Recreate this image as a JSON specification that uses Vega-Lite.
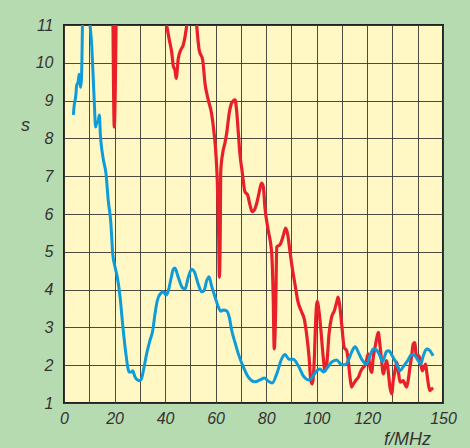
{
  "$schema": "https://vega.github.io/schema/vega-lite/v6.json",
  "width": 379,
  "height": 378,
  "autosize": {"type": "none"},
  "padding": {"left": 64, "top": 25, "right": 27, "bottom": 45},
  "background": "#b7dbb0",
  "config": {
    "view": {"fill": "#fff8c5", "stroke": "#222222", "strokeWidth": 2},
    "axis": {
      "labelFont": "Liberation Sans",
      "labelFontStyle": "italic",
      "labelFontSize": 16,
      "labelColor": "#333333",
      "titleFont": "Liberation Sans",
      "titleFontStyle": "italic",
      "titleFontWeight": "normal",
      "titleFontSize": 18,
      "titleColor": "#333333",
      "ticks": false,
      "domain": false,
      "grid": true,
      "gridColor": "#3a3630",
      "gridWidth": 1,
      "gridOpacity": 0.9
    }
  },
  "datasets": {
    "curves": [
      {"series": "red", "seg": "r1", "f": 19.4, "s": 11},
      {"series": "red", "seg": "r1", "f": 19.9, "s": 8.3},
      {"series": "red", "seg": "r1", "f": 20.6, "s": 11},

      {"series": "red", "seg": "r2", "f": 40.6, "s": 11},
      {"series": "red", "seg": "r2", "f": 41.7, "s": 10.6},
      {"series": "red", "seg": "r2", "f": 42.6, "s": 10.29},
      {"series": "red", "seg": "r2", "f": 43.3, "s": 9.9},
      {"series": "red", "seg": "r2", "f": 43.9, "s": 9.81},
      {"series": "red", "seg": "r2", "f": 44.4, "s": 9.59},
      {"series": "red", "seg": "r2", "f": 45.2, "s": 10.1},
      {"series": "red", "seg": "r2", "f": 46.2, "s": 10.34},
      {"series": "red", "seg": "r2", "f": 47.2, "s": 10.47},
      {"series": "red", "seg": "r2", "f": 47.9, "s": 10.69},
      {"series": "red", "seg": "r2", "f": 48.6, "s": 11},

      {"series": "red", "seg": "r3", "f": 52.5, "s": 11},
      {"series": "red", "seg": "r3", "f": 53.5, "s": 10.34},
      {"series": "red", "seg": "r3", "f": 54.9, "s": 10.07},
      {"series": "red", "seg": "r3", "f": 55.8, "s": 9.46},
      {"series": "red", "seg": "r3", "f": 57.1, "s": 9.02},
      {"series": "red", "seg": "r3", "f": 58.4, "s": 8.66},
      {"series": "red", "seg": "r3", "f": 59.4, "s": 8.14},
      {"series": "red", "seg": "r3", "f": 60.2, "s": 7.52},
      {"series": "red", "seg": "r3", "f": 60.7, "s": 6.82},
      {"series": "red", "seg": "r3", "f": 61.2, "s": 5.5},
      {"series": "red", "seg": "r3", "f": 61.5, "s": 4.33},
      {"series": "red", "seg": "r3", "f": 61.9, "s": 6.0},
      {"series": "red", "seg": "r3", "f": 62.0, "s": 7.08},
      {"series": "red", "seg": "r3", "f": 62.8, "s": 7.61},
      {"series": "red", "seg": "r3", "f": 63.7, "s": 7.88},
      {"series": "red", "seg": "r3", "f": 64.4, "s": 8.14},
      {"series": "red", "seg": "r3", "f": 65.4, "s": 8.67},
      {"series": "red", "seg": "r3", "f": 66.4, "s": 8.94},
      {"series": "red", "seg": "r3", "f": 67.7, "s": 9.02},
      {"series": "red", "seg": "r3", "f": 68.3, "s": 8.75},
      {"series": "red", "seg": "r3", "f": 69.0, "s": 8.14},
      {"series": "red", "seg": "r3", "f": 69.6, "s": 7.61},
      {"series": "red", "seg": "r3", "f": 70.6, "s": 7.08},
      {"series": "red", "seg": "r3", "f": 71.6, "s": 6.59},
      {"series": "red", "seg": "r3", "f": 72.7, "s": 6.5},
      {"series": "red", "seg": "r3", "f": 73.6, "s": 6.24},
      {"series": "red", "seg": "r3", "f": 74.5, "s": 6.06},
      {"series": "red", "seg": "r3", "f": 75.3, "s": 6.1},
      {"series": "red", "seg": "r3", "f": 76.3, "s": 6.29},
      {"series": "red", "seg": "r3", "f": 77.2, "s": 6.56},
      {"series": "red", "seg": "r3", "f": 78.2, "s": 6.82},
      {"series": "red", "seg": "r3", "f": 78.9, "s": 6.72},
      {"series": "red", "seg": "r3", "f": 79.5, "s": 6.19},
      {"series": "red", "seg": "r3", "f": 80.8, "s": 5.58},
      {"series": "red", "seg": "r3", "f": 82.2, "s": 4.96},
      {"series": "red", "seg": "r3", "f": 82.8, "s": 3.8},
      {"series": "red", "seg": "r3", "f": 83.2, "s": 2.43},
      {"series": "red", "seg": "r3", "f": 83.8, "s": 3.54},
      {"series": "red", "seg": "r3", "f": 84.2, "s": 5.13},
      {"series": "red", "seg": "r3", "f": 85.5, "s": 5.19},
      {"series": "red", "seg": "r3", "f": 86.8, "s": 5.43},
      {"series": "red", "seg": "r3", "f": 87.7, "s": 5.63},
      {"series": "red", "seg": "r3", "f": 88.5, "s": 5.47},
      {"series": "red", "seg": "r3", "f": 89.4, "s": 5.03},
      {"series": "red", "seg": "r3", "f": 90.3, "s": 4.59},
      {"series": "red", "seg": "r3", "f": 91.4, "s": 4.15},
      {"series": "red", "seg": "r3", "f": 92.5, "s": 3.71},
      {"series": "red", "seg": "r3", "f": 94.1, "s": 3.4},
      {"series": "red", "seg": "r3", "f": 95.1, "s": 3.22},
      {"series": "red", "seg": "r3", "f": 96.0, "s": 2.83},
      {"series": "red", "seg": "r3", "f": 97.0, "s": 2.21},
      {"series": "red", "seg": "r3", "f": 97.7, "s": 1.59},
      {"series": "red", "seg": "r3", "f": 98.3, "s": 1.5},
      {"series": "red", "seg": "r3", "f": 99.1, "s": 2.21},
      {"series": "red", "seg": "r3", "f": 99.6, "s": 3.18},
      {"series": "red", "seg": "r3", "f": 100.2, "s": 3.69},
      {"series": "red", "seg": "r3", "f": 100.9, "s": 3.44},
      {"series": "red", "seg": "r3", "f": 101.7, "s": 2.91},
      {"series": "red", "seg": "r3", "f": 102.6, "s": 2.21},
      {"series": "red", "seg": "r3", "f": 103.3, "s": 1.85},
      {"series": "red", "seg": "r3", "f": 104.0, "s": 2.03},
      {"series": "red", "seg": "r3", "f": 104.9, "s": 2.83},
      {"series": "red", "seg": "r3", "f": 105.9, "s": 3.27},
      {"series": "red", "seg": "r3", "f": 107.0, "s": 3.44},
      {"series": "red", "seg": "r3", "f": 107.9, "s": 3.66},
      {"series": "red", "seg": "r3", "f": 108.5, "s": 3.8},
      {"series": "red", "seg": "r3", "f": 109.2, "s": 3.53},
      {"series": "red", "seg": "r3", "f": 109.9, "s": 3.09},
      {"series": "red", "seg": "r3", "f": 110.9, "s": 2.47},
      {"series": "red", "seg": "r3", "f": 111.9, "s": 2.38},
      {"series": "red", "seg": "r3", "f": 112.5, "s": 2.12},
      {"series": "red", "seg": "r3", "f": 113.2, "s": 1.68},
      {"series": "red", "seg": "r3", "f": 113.8, "s": 1.42},
      {"series": "red", "seg": "r3", "f": 114.5, "s": 1.5},
      {"series": "red", "seg": "r3", "f": 115.4, "s": 1.59},
      {"series": "red", "seg": "r3", "f": 116.5, "s": 1.68},
      {"series": "red", "seg": "r3", "f": 117.5, "s": 1.85},
      {"series": "red", "seg": "r3", "f": 118.4, "s": 1.94},
      {"series": "red", "seg": "r3", "f": 119.4, "s": 2.03},
      {"series": "red", "seg": "r3", "f": 120.4, "s": 2.3},
      {"series": "red", "seg": "r3", "f": 121.1, "s": 1.94},
      {"series": "red", "seg": "r3", "f": 121.8, "s": 1.81},
      {"series": "red", "seg": "r3", "f": 122.4, "s": 2.21},
      {"series": "red", "seg": "r3", "f": 123.1, "s": 2.47},
      {"series": "red", "seg": "r3", "f": 123.7, "s": 2.69},
      {"series": "red", "seg": "r3", "f": 124.4, "s": 2.87},
      {"series": "red", "seg": "r3", "f": 125.0, "s": 2.56},
      {"series": "red", "seg": "r3", "f": 125.7, "s": 2.12},
      {"series": "red", "seg": "r3", "f": 126.4, "s": 1.77},
      {"series": "red", "seg": "r3", "f": 127.0, "s": 1.94},
      {"series": "red", "seg": "r3", "f": 127.7, "s": 2.12},
      {"series": "red", "seg": "r3", "f": 128.3, "s": 1.85},
      {"series": "red", "seg": "r3", "f": 129.0, "s": 1.42},
      {"series": "red", "seg": "r3", "f": 129.7, "s": 1.24},
      {"series": "red", "seg": "r3", "f": 130.3, "s": 1.59},
      {"series": "red", "seg": "r3", "f": 131.0, "s": 1.85},
      {"series": "red", "seg": "r3", "f": 131.7, "s": 2.08},
      {"series": "red", "seg": "r3", "f": 132.3, "s": 1.85},
      {"series": "red", "seg": "r3", "f": 133.0, "s": 1.55},
      {"series": "red", "seg": "r3", "f": 134.3, "s": 1.59},
      {"series": "red", "seg": "r3", "f": 134.9, "s": 1.5},
      {"series": "red", "seg": "r3", "f": 135.6, "s": 1.42},
      {"series": "red", "seg": "r3", "f": 136.2, "s": 1.59},
      {"series": "red", "seg": "r3", "f": 136.9, "s": 1.94},
      {"series": "red", "seg": "r3", "f": 137.6, "s": 2.25},
      {"series": "red", "seg": "r3", "f": 138.2, "s": 2.56},
      {"series": "red", "seg": "r3", "f": 138.9, "s": 2.6},
      {"series": "red", "seg": "r3", "f": 139.3, "s": 2.3},
      {"series": "red", "seg": "r3", "f": 140.0, "s": 2.21},
      {"series": "red", "seg": "r3", "f": 140.5, "s": 2.25},
      {"series": "red", "seg": "r3", "f": 141.2, "s": 2.03},
      {"series": "red", "seg": "r3", "f": 141.8, "s": 1.85},
      {"series": "red", "seg": "r3", "f": 142.5, "s": 1.94},
      {"series": "red", "seg": "r3", "f": 143.1, "s": 2.03},
      {"series": "red", "seg": "r3", "f": 143.5, "s": 1.85},
      {"series": "red", "seg": "r3", "f": 144.2, "s": 1.5},
      {"series": "red", "seg": "r3", "f": 144.8, "s": 1.33},
      {"series": "red", "seg": "r3", "f": 145.5, "s": 1.37},
      {"series": "red", "seg": "r3", "f": 146.1, "s": 1.4},

      {"series": "blue", "seg": "b1", "f": 3.7, "s": 8.62},
      {"series": "blue", "seg": "b1", "f": 4.0, "s": 8.85},
      {"series": "blue", "seg": "b1", "f": 4.7, "s": 9.15},
      {"series": "blue", "seg": "b1", "f": 5.0, "s": 9.4},
      {"series": "blue", "seg": "b1", "f": 5.6, "s": 9.5},
      {"series": "blue", "seg": "b1", "f": 6.0, "s": 9.7},
      {"series": "blue", "seg": "b1", "f": 6.5, "s": 9.35},
      {"series": "blue", "seg": "b1", "f": 6.9, "s": 9.55},
      {"series": "blue", "seg": "b1", "f": 7.3, "s": 11},

      {"series": "blue", "seg": "b2", "f": 10.3, "s": 11},
      {"series": "blue", "seg": "b2", "f": 11.0, "s": 10.43},
      {"series": "blue", "seg": "b2", "f": 11.6, "s": 9.54},
      {"series": "blue", "seg": "b2", "f": 12.0, "s": 8.94},
      {"series": "blue", "seg": "b2", "f": 12.5, "s": 8.3},
      {"series": "blue", "seg": "b2", "f": 12.9, "s": 8.4},
      {"series": "blue", "seg": "b2", "f": 13.5, "s": 8.45},
      {"series": "blue", "seg": "b2", "f": 14.0, "s": 8.62},
      {"series": "blue", "seg": "b2", "f": 14.4, "s": 8.1},
      {"series": "blue", "seg": "b2", "f": 14.8, "s": 7.8},
      {"series": "blue", "seg": "b2", "f": 15.6, "s": 7.43},
      {"series": "blue", "seg": "b2", "f": 16.6, "s": 7.08},
      {"series": "blue", "seg": "b2", "f": 17.5, "s": 6.37},
      {"series": "blue", "seg": "b2", "f": 18.5, "s": 5.8},
      {"series": "blue", "seg": "b2", "f": 19.3, "s": 4.94},
      {"series": "blue", "seg": "b2", "f": 20.2, "s": 4.6},
      {"series": "blue", "seg": "b2", "f": 21.1, "s": 4.33},
      {"series": "blue", "seg": "b2", "f": 22.2, "s": 3.8},
      {"series": "blue", "seg": "b2", "f": 23.2, "s": 3.09},
      {"series": "blue", "seg": "b2", "f": 24.5, "s": 2.3},
      {"series": "blue", "seg": "b2", "f": 25.8, "s": 1.82},
      {"series": "blue", "seg": "b2", "f": 26.8, "s": 1.82},
      {"series": "blue", "seg": "b2", "f": 27.2, "s": 1.85},
      {"series": "blue", "seg": "b2", "f": 28.1, "s": 1.69},
      {"series": "blue", "seg": "b2", "f": 29.0, "s": 1.61},
      {"series": "blue", "seg": "b2", "f": 30.1, "s": 1.59},
      {"series": "blue", "seg": "b2", "f": 30.7, "s": 1.65},
      {"series": "blue", "seg": "b2", "f": 31.7, "s": 1.95},
      {"series": "blue", "seg": "b2", "f": 32.7, "s": 2.3},
      {"series": "blue", "seg": "b2", "f": 34.0, "s": 2.65},
      {"series": "blue", "seg": "b2", "f": 35.1, "s": 2.91},
      {"series": "blue", "seg": "b2", "f": 36.0, "s": 3.35},
      {"series": "blue", "seg": "b2", "f": 36.9, "s": 3.7},
      {"series": "blue", "seg": "b2", "f": 38.0, "s": 3.88},
      {"series": "blue", "seg": "b2", "f": 39.3, "s": 3.94},
      {"series": "blue", "seg": "b2", "f": 40.4, "s": 3.86},
      {"series": "blue", "seg": "b2", "f": 41.3, "s": 3.97},
      {"series": "blue", "seg": "b2", "f": 42.2, "s": 4.24},
      {"series": "blue", "seg": "b2", "f": 43.3, "s": 4.54},
      {"series": "blue", "seg": "b2", "f": 43.9, "s": 4.57},
      {"series": "blue", "seg": "b2", "f": 45.2, "s": 4.33},
      {"series": "blue", "seg": "b2", "f": 47.0, "s": 4.04},
      {"series": "blue", "seg": "b2", "f": 47.9, "s": 4.02},
      {"series": "blue", "seg": "b2", "f": 49.2, "s": 4.33},
      {"series": "blue", "seg": "b2", "f": 50.5, "s": 4.54},
      {"series": "blue", "seg": "b2", "f": 51.6, "s": 4.47},
      {"series": "blue", "seg": "b2", "f": 53.1, "s": 4.15},
      {"series": "blue", "seg": "b2", "f": 54.5, "s": 3.94},
      {"series": "blue", "seg": "b2", "f": 55.4, "s": 3.97},
      {"series": "blue", "seg": "b2", "f": 56.5, "s": 4.24},
      {"series": "blue", "seg": "b2", "f": 57.4, "s": 4.34},
      {"series": "blue", "seg": "b2", "f": 58.4, "s": 4.1},
      {"series": "blue", "seg": "b2", "f": 59.8, "s": 3.8},
      {"series": "blue", "seg": "b2", "f": 61.1, "s": 3.54},
      {"series": "blue", "seg": "b2", "f": 62.1, "s": 3.43},
      {"series": "blue", "seg": "b2", "f": 63.0, "s": 3.46},
      {"series": "blue", "seg": "b2", "f": 64.4, "s": 3.44},
      {"series": "blue", "seg": "b2", "f": 65.4, "s": 3.27},
      {"series": "blue", "seg": "b2", "f": 66.4, "s": 2.91},
      {"series": "blue", "seg": "b2", "f": 67.7, "s": 2.6},
      {"series": "blue", "seg": "b2", "f": 69.0, "s": 2.3},
      {"series": "blue", "seg": "b2", "f": 71.0, "s": 1.95},
      {"series": "blue", "seg": "b2", "f": 72.9, "s": 1.69},
      {"series": "blue", "seg": "b2", "f": 75.6, "s": 1.56},
      {"series": "blue", "seg": "b2", "f": 77.6, "s": 1.61},
      {"series": "blue", "seg": "b2", "f": 79.3, "s": 1.66},
      {"series": "blue", "seg": "b2", "f": 80.8, "s": 1.58},
      {"series": "blue", "seg": "b2", "f": 82.4, "s": 1.53},
      {"series": "blue", "seg": "b2", "f": 84.2, "s": 1.77},
      {"series": "blue", "seg": "b2", "f": 86.1, "s": 2.16},
      {"series": "blue", "seg": "b2", "f": 87.5, "s": 2.28},
      {"series": "blue", "seg": "b2", "f": 89.0, "s": 2.16},
      {"series": "blue", "seg": "b2", "f": 90.7, "s": 2.16},
      {"series": "blue", "seg": "b2", "f": 92.7, "s": 1.99},
      {"series": "blue", "seg": "b2", "f": 94.7, "s": 1.72},
      {"series": "blue", "seg": "b2", "f": 97.0, "s": 1.61},
      {"series": "blue", "seg": "b2", "f": 98.3, "s": 1.69},
      {"series": "blue", "seg": "b2", "f": 100.0, "s": 1.85},
      {"series": "blue", "seg": "b2", "f": 101.3, "s": 1.9},
      {"series": "blue", "seg": "b2", "f": 102.6, "s": 1.82},
      {"series": "blue", "seg": "b2", "f": 104.4, "s": 1.95},
      {"series": "blue", "seg": "b2", "f": 105.9, "s": 2.08},
      {"series": "blue", "seg": "b2", "f": 107.9, "s": 2.14},
      {"series": "blue", "seg": "b2", "f": 109.6, "s": 2.03},
      {"series": "blue", "seg": "b2", "f": 111.2, "s": 2.01},
      {"series": "blue", "seg": "b2", "f": 112.5, "s": 2.12},
      {"series": "blue", "seg": "b2", "f": 113.8, "s": 2.34},
      {"series": "blue", "seg": "b2", "f": 115.2, "s": 2.49},
      {"series": "blue", "seg": "b2", "f": 116.5, "s": 2.34},
      {"series": "blue", "seg": "b2", "f": 117.8, "s": 2.16},
      {"series": "blue", "seg": "b2", "f": 119.8, "s": 2.03},
      {"series": "blue", "seg": "b2", "f": 121.1, "s": 2.25},
      {"series": "blue", "seg": "b2", "f": 122.4, "s": 2.43},
      {"series": "blue", "seg": "b2", "f": 123.7, "s": 2.4},
      {"series": "blue", "seg": "b2", "f": 125.0, "s": 2.25},
      {"series": "blue", "seg": "b2", "f": 126.1, "s": 2.1},
      {"series": "blue", "seg": "b2", "f": 127.7, "s": 2.37},
      {"series": "blue", "seg": "b2", "f": 128.6, "s": 2.38},
      {"series": "blue", "seg": "b2", "f": 129.9, "s": 2.25},
      {"series": "blue", "seg": "b2", "f": 131.7, "s": 2.03},
      {"series": "blue", "seg": "b2", "f": 133.0, "s": 1.85},
      {"series": "blue", "seg": "b2", "f": 134.3, "s": 1.96},
      {"series": "blue", "seg": "b2", "f": 136.0, "s": 2.12},
      {"series": "blue", "seg": "b2", "f": 137.6, "s": 2.28},
      {"series": "blue", "seg": "b2", "f": 138.9, "s": 2.25},
      {"series": "blue", "seg": "b2", "f": 140.2, "s": 2.12},
      {"series": "blue", "seg": "b2", "f": 141.2, "s": 2.03},
      {"series": "blue", "seg": "b2", "f": 142.2, "s": 2.25},
      {"series": "blue", "seg": "b2", "f": 143.5, "s": 2.43},
      {"series": "blue", "seg": "b2", "f": 144.6, "s": 2.4},
      {"series": "blue", "seg": "b2", "f": 146.1, "s": 2.25}
    ]
  },
  "data": {"name": "curves"},
  "encoding": {
    "x": {
      "field": "f",
      "type": "quantitative",
      "scale": {"domain": [0, 150], "nice": false, "zero": false},
      "axis": {
        "values": [0, 10, 20, 30, 40, 50, 60, 70, 80, 90, 100, 110, 120, 130, 140, 150],
        "labelExpr": "(datum.value % 20 === 0 && datum.value <= 120) || datum.value === 150 ? datum.label : ''",
        "labelPadding": 7,
        "labelFlush": false,
        "labelOverlap": false,
        "title": "f/MHz",
        "titleX": 343,
        "titleY": 41,
        "titleAlign": "center",
        "titleBaseline": "alphabetic"
      }
    },
    "y": {
      "field": "s",
      "type": "quantitative",
      "scale": {"domain": [1, 11], "nice": false, "zero": false},
      "axis": {
        "values": [1, 2, 3, 4, 5, 6, 7, 8, 9, 10, 11],
        "labelPadding": 11,
        "labelOverlap": false,
        "labelFlush": false,
        "title": "s",
        "titleAngle": 0,
        "titleX": -39,
        "titleY": 105,
        "titleAlign": "center",
        "titleBaseline": "alphabetic"
      }
    },
    "detail": {"field": "seg"}
  },
  "layer": [
    {
      "transform": [{"filter": "datum.series === 'red'"}],
      "mark": {"type": "line", "color": "#e8202a", "strokeWidth": 3.2, "interpolate": "monotone", "clip": true}
    },
    {
      "transform": [{"filter": "datum.series === 'blue'"}],
      "mark": {"type": "line", "color": "#0d9bd9", "strokeWidth": 3, "interpolate": "monotone", "clip": true}
    }
  ]
}
